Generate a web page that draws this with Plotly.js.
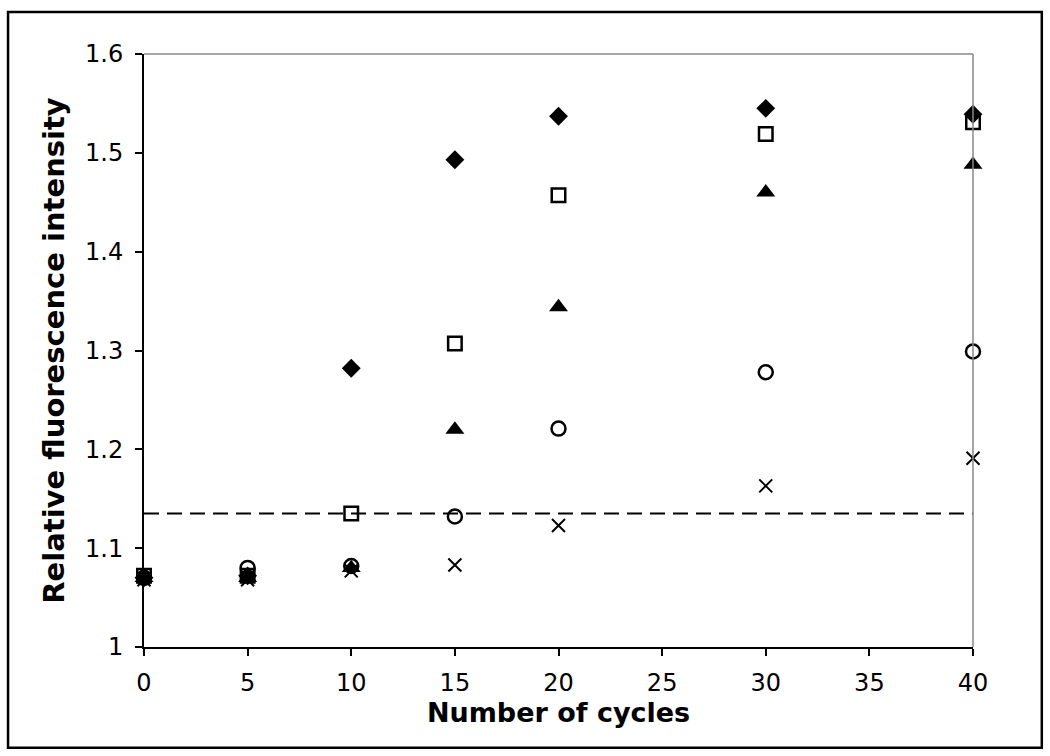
<!DOCTYPE html>
<html>
<head>
<meta charset="utf-8">
<script src="https://cdn.plot.ly/plotly-3.0.1.min.js"></script>
<style>
  html, body { margin: 0; padding: 0; background: #fff; }
  #chart { width: 1050px; height: 756px; }
</style>
</head>
<body>
<div id="chart"></div>
<script>
// cycle numbers on the x axis
const cycles = [0, 5, 10, 15, 20, 30, 40];

// relative fluorescence intensity per series
const diamondValues = [1.070, 1.072, 1.282, 1.493, 1.537, 1.545, 1.539];
const squareValues = [1.072, 1.072, 1.135, 1.307, 1.457, 1.519, 1.531];
const triangleValues = [1.070, 1.070, 1.080, 1.220, 1.344, 1.460, 1.488];
const circleValues = [1.070, 1.080, 1.082, 1.132, 1.221, 1.278, 1.299];
const crossValues = [1.068, 1.068, 1.077, 1.083, 1.123, 1.163, 1.191];

// threshold drawn as the dashed line
const thresholdLevel = 1.135;

const fontFamily = '"DejaVu Sans", Verdana, sans-serif';

function markerTrace(values, symbol, size, lineWidth) {
    return {
        type: 'scatter',
        mode: 'markers',
        x: cycles,
        y: values,
        showlegend: false,
        hoverinfo: 'x+y',
        cliponaxis: false,
        // open symbols stroke with marker.color
        marker: {
            symbol: symbol,
            size: size,
            color: '#000',
            line: { color: '#000', width: lineWidth },
        },
    };
}

const traces = [
    markerTrace(crossValues, 'x-thin-open', 13, 2),
    markerTrace(circleValues, 'circle-open', 14, 2.5),
    markerTrace(triangleValues, 'triangle-up', 16.5, 0),
    markerTrace(squareValues, 'square-open', 13.5, 2.5),
    markerTrace(diamondValues, 'diamond', 14.5, 0),
];

const tickFont = { family: fontFamily, size: 24, color: '#000' };

const layout = {
    width: 1050,
    height: 756,
    paper_bgcolor: '#fff',
    plot_bgcolor: '#fff',
    margin: { l: 144, r: 77, t: 54, b: 109 },
    font: { family: fontFamily, size: 24, color: '#000' },
    showlegend: false,
    xaxis: {
        range: [0, 40],
        tickvals: [0, 5, 10, 15, 20, 25, 30, 35, 40],
        ticks: 'outside',
        ticklen: 7,
        tickwidth: 2,
        tickcolor: '#000',
        ticklabelstandoff: 6,
        showline: true,
        linecolor: '#000',
        linewidth: 2,
        showgrid: false,
        zeroline: false,
        tickfont: tickFont,
        title: { text: 'Number of cycles', standoff: 6, font: { family: fontFamily, size: 27, color: '#000', weight: 'bold' } },
    },
    yaxis: {
        range: [1, 1.6],
        tickvals: [1, 1.1, 1.2, 1.3, 1.4, 1.5, 1.6],
        ticktext: ['1', '1.1', '1.2', '1.3', '1.4', '1.5', '1.6'],
        ticks: 'outside',
        ticklen: 7,
        tickwidth: 2,
        tickcolor: '#000',
        ticklabelstandoff: 7,
        showline: true,
        linecolor: '#000',
        linewidth: 2,
        showgrid: false,
        zeroline: false,
        tickfont: tickFont,
        title: { text: 'Relative fluorescence intensity', standoff: 12, font: { family: fontFamily, size: 29, color: '#000', weight: 'bold' } },
    },
    shapes: [
        // dashed threshold
        { type: 'line', xref: 'paper', yref: 'y', x0: 0, x1: 1, y0: thresholdLevel, y1: thresholdLevel,
          line: { color: '#000', width: 2, dash: '15px,8px' } },
        // grey top and right edges of the plot area
        { type: 'line', xref: 'paper', yref: 'paper', x0: 0, x1: 1, y0: 1, y1: 1, line: { color: '#888', width: 1.5 } },
        { type: 'line', xref: 'paper', yref: 'paper', x0: 1, x1: 1, y0: 0, y1: 1, line: { color: '#888', width: 1.5 } },
        // outer frame around the whole figure
        { type: 'rect', xref: 'paper', yref: 'paper', x0: -0.164, x1: 1.083, y0: -0.170, y1: 1.071,
          line: { color: '#000', width: 2.5 }, layer: 'below' },
    ],
};

Plotly.newPlot('chart', traces, layout, { displayModeBar: false, staticPlot: true });
</script>
</body>
</html>
